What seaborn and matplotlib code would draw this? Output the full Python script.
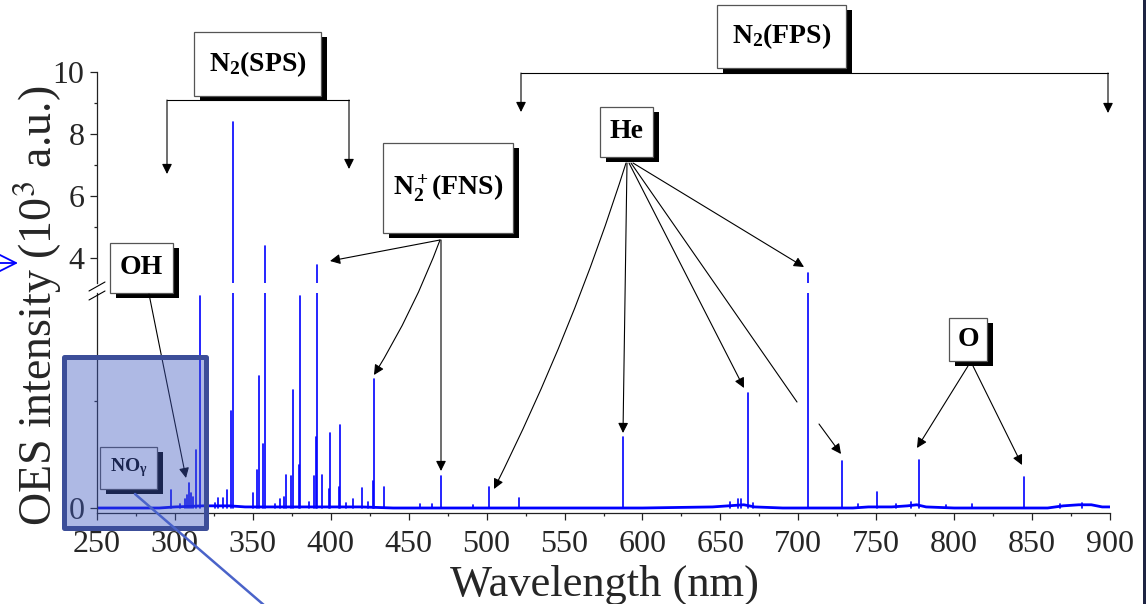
import numpy as np
import pandas as pd
import matplotlib
matplotlib.use("Agg")
import matplotlib.pyplot as plt
import seaborn as sns
from matplotlib.patches import Rectangle, FancyArrowPatch

W, H = 1146, 604

# emission lines: wavelength (nm) and peak intensity (10^3 a.u.)
peak_nm = [297.6, 303.0, 306.5, 307.6, 308.8, 310.3, 311.6, 313.4, 315.9, 320.5,
           326.0, 327.8, 330.6, 333.7, 336.3, 337.1, 350.0, 352.8, 353.7, 356.8,
           357.7, 364.0, 367.2, 370.0, 371.0, 374.5, 375.5, 379.3, 380.5, 385.8,
           389.5, 390.6, 391.4, 394.3, 398.8, 399.8, 405.0, 405.9, 409.5, 414.2,
           420.0, 423.6, 426.9, 427.8, 434.4, 457.0, 465.0, 470.9, 491.0, 501.6,
           521.0, 587.6, 656.0, 661.0, 663.5, 667.8, 671.0, 706.5, 728.1, 738.0,
           750.4, 763.0, 772.0, 777.2, 794.7, 811.5, 844.6, 868.0, 882.0]
peak_height = [0.17, 0.04, 0.08, 0.12, 0.23, 0.14, 0.10, 0.54, 1.97, 0.04,
               0.05, 0.09, 0.09, 0.17, 0.90, 8.39, 0.14, 0.35, 1.23, 0.60,
               4.40, 0.04, 0.08, 0.10, 0.31, 0.30, 1.10, 0.40, 1.97, 0.06,
               0.30, 0.66, 3.77, 0.31, 0.18, 0.70, 0.20, 0.77, 0.05, 0.08,
               0.19, 0.06, 0.25, 1.20, 0.20, 0.04, 0.04, 0.30, 0.03, 0.20,
               0.09, 0.66, 0.06, 0.08, 0.08, 1.07, 0.05, 3.53, 0.44, 0.04,
               0.15, 0.04, 0.06, 0.45, 0.03, 0.04, 0.29, 0.04, 0.05]

# background level of the spectrum
base_nm = [250, 290, 300, 318, 325, 335, 345, 420, 440, 600, 645, 655, 665, 672,
           690, 735, 745, 760, 770, 776, 782, 800, 860, 870, 880, 888, 895, 900]
base_level = [0.0, 0.0, 0.01, 0.02, 0.02, 0.02, 0.01, 0.01, 0.0, 0.0, 0.01, 0.02,
              0.03, 0.01, 0.0, 0.0, 0.01, 0.01, 0.02, 0.03, 0.01, 0.0, 0.0, 0.02,
              0.03, 0.03, 0.01, 0.01]

x_major = list(range(250, 901, 50))
x_minor = list(range(275, 900, 50))
hi_major = [4, 6, 8, 10]
hi_minor = [5, 7, 9]

sns.set_style("ticks")
plt.rcParams['font.family'] = ['Liberation Serif', 'DejaVu Serif']
plt.rcParams['mathtext.fontset'] = 'custom'
plt.rcParams['mathtext.rm'] = 'Liberation Serif:bold'
plt.rcParams['mathtext.bf'] = 'Liberation Serif:bold'
plt.rcParams['mathtext.it'] = 'Liberation Serif:bold'

peaks = pd.DataFrame({
    'nm': np.repeat(peak_nm, 2),
    'val': np.ravel([[0.0, h] for h in peak_height]),
    'line': np.repeat(np.arange(len(peak_nm)), 2),
})
base = pd.DataFrame({'nm': base_nm, 'val': base_level})

fig = plt.figure(figsize=(W / 100, H / 100), dpi=100)


def frac(x0, y0, x1, y1):
    # pixel box -> figure fraction
    return [x0 / W, 1 - y1 / H, (x1 - x0) / W, (y1 - y0) / H]


ax_lo = fig.add_axes(frac(97, 293, 1110, 513))
ax_hi = fig.add_axes(frac(97, 72, 1110, 283))

for ax in (ax_lo, ax_hi):
    sns.lineplot(data=base, x='nm', y='val', ax=ax, color='blue', lw=2.0,
                 estimator=None, sort=False)
    sns.lineplot(data=peaks, x='nm', y='val', units='line', ax=ax, color='blue',
                 lw=1.2, estimator=None, sort=False)
    ax.set_xlim(250, 900)
    ax.set_xlabel('')
    ax.set_ylabel('')
    ax.patch.set_alpha(0)
    for s in ('top', 'right'):
        ax.spines[s].set_visible(False)
    for s in ('left', 'bottom'):
        ax.spines[s].set_color('#222222')
        ax.spines[s].set_linewidth(0.9)
    ax.tick_params(which='major', direction='out', length=5, width=0.9,
                   labelsize=23, color='#222222', pad=4)
    ax.tick_params(which='minor', direction='out', length=2.5, width=0.9,
                   color='#222222')

ax_lo.set_ylim(-5 / 107.5, 2.0)
ax_lo.set_yticks([0])
ax_lo.set_yticklabels(['0'])
ax_lo.set_yticks([1.0], minor=True)
ax_lo.set_xticks(x_major)
ax_lo.set_xticks(x_minor, minor=True)
ax_lo.set_xticklabels([str(v) for v in x_major])
ax_lo.tick_params(axis='x', which='major', pad=7)

ax_hi.set_ylim(10 - 211 / 31, 10)
ax_hi.set_yticks(hi_major)
ax_hi.set_yticks(hi_minor, minor=True)
ax_hi.spines['bottom'].set_visible(False)
ax_hi.tick_params(axis='x', which='both', bottom=False, labelbottom=False)

fig.text(605 / W, 1 - 596 / H, 'Wavelength (nm)', ha='center', va='baseline',
         fontsize=32)
fig.text(38 / W, 1 - 306 / H, 'OES intensity (10$^3$ a.u.)', rotation=90,
         ha='center', va='center', fontsize=33, math_fontfamily='stix')

# overlay in pixel coordinates for the annotations
ov = fig.add_axes([0, 0, 1, 1], zorder=5)
ov.set_xlim(0, W)
ov.set_ylim(H, 0)
ov.axis('off')


def label_box(x0, y0, x1, y1, text, size=20):
    ov.add_patch(Rectangle((x0 + 6, y0 + 5), x1 - x0, y1 - y0, facecolor='black',
                           edgecolor='none'))
    ov.add_patch(Rectangle((x0, y0), x1 - x0, y1 - y0, facecolor='white',
                           edgecolor='#555555', lw=0.9))
    ov.text((x0 + x1) / 2, (y0 + y1) / 2, text, ha='center', va='center',
            fontsize=size, fontweight='bold', color='black')


def arrow(x0, y0, x1, y1, rad=0.0):
    ov.add_patch(FancyArrowPatch((x0, y0), (x1, y1), arrowstyle='-|>',
                                 mutation_scale=15, color='black', lw=0.8,
                                 shrinkA=0, shrinkB=0,
                                 connectionstyle=f'arc3,rad={rad}'))


def seg(xs, ys):
    ov.plot(xs, ys, color='black', lw=0.8)


# N2(SPS) bracket
label_box(194, 32, 321, 96, r'N$_2$(SPS)')
seg([167, 349], [100, 100])
arrow(167, 100, 167, 174)
arrow(349, 100, 349, 169)

# N2(FPS) bracket
label_box(717, 5, 846, 68, r'N$_2$(FPS)')
seg([521, 1108], [73, 73])
arrow(521, 73, 521, 112)
arrow(1108, 73, 1108, 113)

# N2+(FNS)
label_box(383, 143, 513, 233, r'N$^+_2$(FNS)')
arrow(440, 240, 330, 261)
arrow(440, 240, 374, 375, rad=-0.05)
arrow(441, 240, 441, 471)

# OH
label_box(110, 243, 173, 293, 'OH')
arrow(149, 294, 186, 478)

# He
label_box(600, 107, 653, 157, 'He')
arrow(626, 163, 494, 489, rad=-0.04)
arrow(627, 163, 623, 433)
arrow(629, 163, 744, 388)
seg([631, 797], [163, 402])
arrow(819, 424, 841, 454)
arrow(633, 163, 804, 267)

# O
label_box(949, 318, 987, 361, 'O')
arrow(968, 366, 917, 448)
arrow(973, 366, 1022, 465)

# NO gamma
label_box(100, 447, 157, 489, r'NO$_\gamma$', size=14)

# axis break marks
seg([89, 105], [291, 282])
seg([89, 105], [300, 291])

# highlighted region over the NO band
ov.add_patch(Rectangle((64, 357), 142, 171, facecolor=(0.25, 0.35, 0.75, 0.42),
                       edgecolor='#3c4e99', lw=3.6, joinstyle='round', zorder=6))
ov.plot([135, 272], [494, 612], color='#4a63c9', lw=1.8, zorder=7, clip_on=False)

# partial blue arrow at left edge and dark frame strip at right
ov.add_patch(FancyArrowPatch((-12, 263), (18, 263),
                             arrowstyle='->,head_length=0.9,head_width=0.45',
                             mutation_scale=15, color='blue', lw=1.3,
                             shrinkA=0, shrinkB=0, clip_on=False))
ov.add_patch(Rectangle((1143, 0), 4, H, facecolor='#1e2442', edgecolor='none',
                       clip_on=False))

fig.savefig('out.png', dpi=100)
